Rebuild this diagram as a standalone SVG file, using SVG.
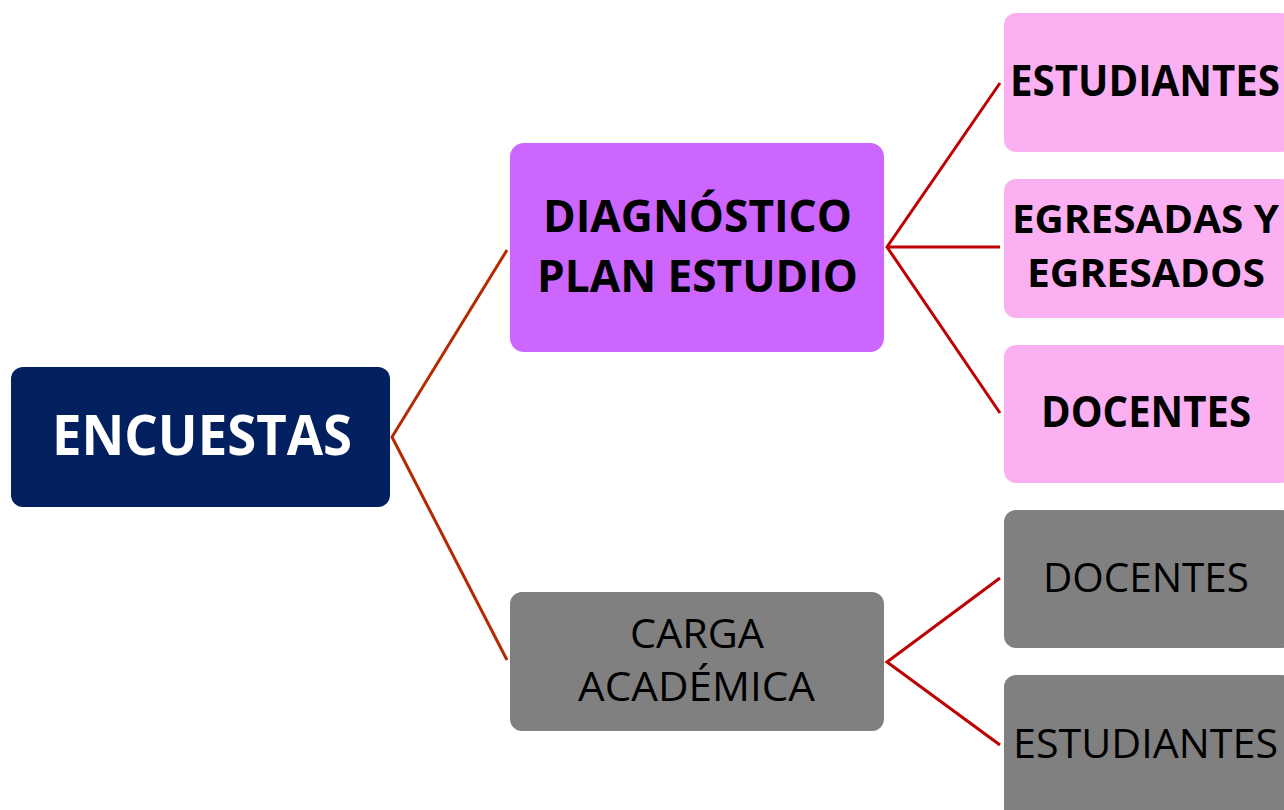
<svg xmlns="http://www.w3.org/2000/svg" width="1284" height="810" viewBox="0 0 1284 810">
<style>
text{font-family:"Open Sans","Liberation Sans",sans-serif;}
.b{font-weight:bold;}
.pink{fill:#FBB0F1;}
.gray{fill:#808080;}
.c1{stroke:#B52A00;stroke-width:3;fill:none;}
.c2{stroke:#C00000;stroke-width:3;fill:none;}
</style>
<rect width="1284" height="810" fill="#FFFFFF"/>
<g id="connectors">
<path class="c1" d="M507,250 L392,437 L507,660"/>
<path class="c2" d="M1000,83 L887,247 L1000,413 M887,247 L1000,247"/>
<path class="c2" d="M1000,578 L887,662 L1000,745"/>
</g>
<g id="encuestas">
<rect x="11" y="367" width="379" height="140" rx="12" fill="#02205F"/>
<text class="b" x="52" y="455" font-size="56" fill="#FFFFFF" textLength="300" lengthAdjust="spacingAndGlyphs">ENCUESTAS</text>
</g>
<g id="diagnostico">
<rect x="510" y="143" width="374" height="209" rx="14" fill="#CC66FF"/>
<text class="b" x="543" y="232" font-size="45" fill="#000" textLength="309" lengthAdjust="spacingAndGlyphs">DIAGNÓSTICO</text>
<text class="b" x="537" y="292" font-size="45" fill="#000" textLength="321" lengthAdjust="spacingAndGlyphs">PLAN ESTUDIO</text>
</g>
<g id="carga">
<rect x="510" y="592" width="374" height="139" rx="12" class="gray"/>
<text x="630" y="648" font-size="40" fill="#000" textLength="134" lengthAdjust="spacingAndGlyphs">CARGA</text>
<text x="578" y="701" font-size="40" fill="#000" textLength="237" lengthAdjust="spacingAndGlyphs">ACADÉMICA</text>
</g>
<g id="estudiantes1">
<rect x="1004" y="13" width="290" height="139" rx="12" class="pink"/>
<text class="b" x="1010" y="96" font-size="43" fill="#000" textLength="270" lengthAdjust="spacingAndGlyphs">ESTUDIANTES</text>
</g>
<g id="egresados">
<rect x="1004" y="179" width="290" height="139" rx="12" class="pink"/>
<text class="b" x="1012" y="233" font-size="40" fill="#000" textLength="267" lengthAdjust="spacingAndGlyphs">EGRESADAS Y</text>
<text class="b" x="1027" y="287" font-size="40" fill="#000" textLength="238" lengthAdjust="spacingAndGlyphs">EGRESADOS</text>
</g>
<g id="docentes1">
<rect x="1004" y="345" width="290" height="138" rx="12" class="pink"/>
<text class="b" x="1041" y="427" font-size="43" fill="#000" textLength="210" lengthAdjust="spacingAndGlyphs">DOCENTES</text>
</g>
<g id="docentes2">
<rect x="1004" y="510" width="290" height="138" rx="12" class="gray"/>
<text x="1043" y="592" font-size="40" fill="#000" textLength="206" lengthAdjust="spacingAndGlyphs">DOCENTES</text>
</g>
<g id="estudiantes2">
<rect x="1004" y="675" width="290" height="150" rx="12" class="gray"/>
<text x="1013" y="758" font-size="40" fill="#000" textLength="265" lengthAdjust="spacingAndGlyphs">ESTUDIANTES</text>
</g>
</svg>
